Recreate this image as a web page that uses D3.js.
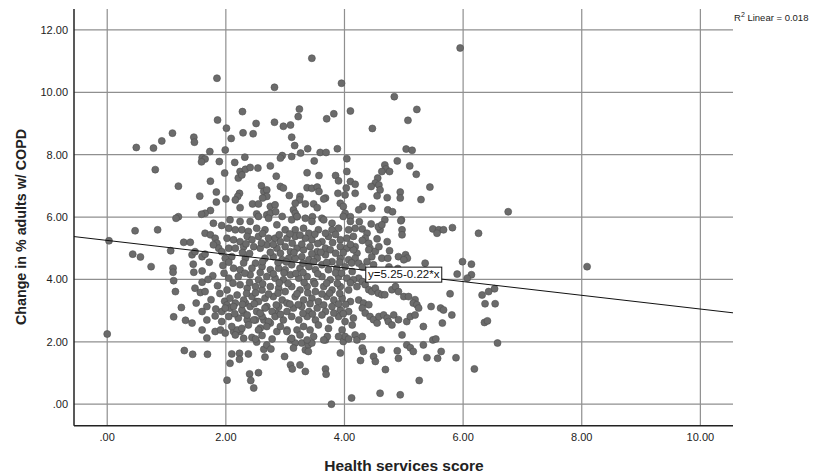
<!DOCTYPE html>
<html>
<head>
<meta charset="utf-8">
<script src="https://cdn.jsdelivr.net/npm/d3@7"></script>
<style>
  body { margin: 0; background: #fff; }
  svg { display: block; font-family: Arial, "Liberation Sans", sans-serif; }
</style>
</head>
<body>
<div id="vis"></div>
<script>
const width = 820;
const height = 476;

// axis ticks
const xTicks = [0, 2, 4, 6, 8, 10];
const yTicks = [0, 2, 4, 6, 8, 10, 12];

// fit line
const fitIntercept = 5.25;
const fitSlope = -0.22;
const rSquared = 0.018;
const fitLabelAt = 5.64;

// [health services score, change in % adults w/ COPD]
const outerPoints = [
  [1.85,10.45],[1.86,9.11],[1.10,8.69],[0.92,8.44],[0.78,8.21],[0.49,8.23],[1.46,8.56],[1.47,8.40],
  [1.73,8.10],[1.60,7.90],[1.65,7.86],[1.59,7.77],[1.89,7.78],[1.99,8.15],[1.98,7.41],[0.81,7.52],
  [1.74,7.15],[1.84,6.80],[1.20,6.99],[1.56,6.67],[1.84,6.48],[2.00,6.58],[1.74,6.21],[1.65,6.12],
  [1.59,6.09],[1.20,6.01],[1.16,5.96],
  [3.45,11.09],[2.82,10.16],[3.95,10.29],[2.28,9.38],[3.24,9.46],[3.22,9.22],[3.70,9.15],[3.82,9.31],
  [4.10,9.40],[2.01,8.85],[2.51,9.00],[2.82,9.04],[2.97,8.91],[3.09,8.95],[2.09,8.52],[2.29,8.70],
  [2.46,8.67],[3.11,8.56],[3.16,8.29],[3.38,8.19],[3.26,8.05],[2.95,7.97],[2.92,7.89],[3.11,7.94],
  [3.59,8.07],[3.69,8.07],[3.88,8.19],[4.04,7.87],[2.32,7.92],[2.15,7.75],[2.75,7.64],[3.49,7.80],
  [3.37,7.42],[3.57,7.33],[2.85,7.31],[4.04,7.46],[2.24,7.46],[2.33,7.53],[2.41,7.59],[2.54,7.57],
  [2.21,7.25],[2.27,7.35],[3.85,7.33],[3.90,7.16],[4.10,7.14],[2.92,6.98],[2.97,6.93],[2.60,7.00],
  [2.64,6.82],[2.69,6.87],[2.69,6.66],[2.62,6.61],[3.37,6.94],[3.45,6.92],[3.54,6.96],[3.57,6.82],
  [3.89,6.76],[3.07,6.69],[3.25,6.66],[3.24,6.55],[3.68,6.61],[3.65,6.58],[4.03,6.93],[4.01,6.71],
  [2.23,6.76],[2.20,6.66],[2.16,6.55],[2.45,6.42],[2.55,6.42],[2.24,6.30],[2.75,6.34],[2.83,6.39],
  [3.17,6.44],[3.14,6.23],[3.34,6.42],[3.48,6.42],[3.54,6.30],[3.93,6.44],[3.98,6.34],[2.52,6.10],
  [2.69,6.07],[2.75,6.12],[2.84,6.17],[3.17,6.12],[3.20,6.01],[3.62,5.96],[3.46,6.01],[4.01,6.12],
  [4.10,6.01],
  [5.95,11.42],[4.84,9.86],[5.22,9.45],[5.07,9.10],[4.47,8.84],[5.04,8.18],[5.14,8.14],[4.89,7.80],
  [4.68,7.67],[4.70,7.54],[4.63,7.46],[4.76,7.46],[5.10,7.64],[5.21,7.37],[4.56,7.25],[4.52,7.09],
  [4.45,6.98],[4.58,7.03],[4.60,6.87],[5.44,6.96],[4.94,6.80],[4.94,6.61],[4.55,6.68],[4.72,6.62],
  [5.29,6.56],[4.18,7.05],[4.18,6.76],[4.31,6.34],[4.24,6.23],[4.46,6.28],[4.73,6.23],[4.81,6.17],
  [4.68,5.91],[4.96,5.91],
  [6.76,6.17],[8.09,4.41],[6.53,3.70],[6.43,3.61],[6.32,3.50],[6.37,3.22],[6.54,3.22],[6.36,2.62],
  [6.41,2.67],[6.58,1.96],[6.26,5.48]
];

const rightPoints = [
  [4.95,5.88],[4.18,5.64],[4.30,5.62],[4.38,5.48],[4.35,5.32],[4.41,5.16],[4.43,5.00],[4.60,5.59],
  [4.57,5.69],[4.63,5.75],[4.97,5.59],[4.97,5.43],[5.49,5.62],[5.59,5.59],[5.67,5.59],[5.56,5.48],
  [5.82,5.66],[4.72,5.21],[4.76,4.92],[4.18,5.05],[4.21,4.84],[4.18,4.68],[4.24,4.52],[4.41,4.95],
  [4.46,4.73],[4.38,4.57],[4.49,4.47],[4.63,4.68],[4.73,4.68],[4.91,4.73],[5.03,4.79],[5.06,4.68],
  [5.00,4.63],[5.36,4.52],[5.99,4.57],[6.14,4.49],[6.14,4.15],[6.07,4.04],[5.90,4.17],
  [4.25,5.85],[4.45,5.78],[4.30,5.25],[4.55,5.30],[4.52,4.90],[4.30,4.40],[4.62,4.25],[4.45,4.20],
  [4.75,4.40],[4.90,4.35],[4.58,5.05],
  [4.24,4.04],[4.30,3.93],[4.21,3.77],[4.35,3.83],[4.41,3.67],[4.46,3.61],[4.52,3.72],[4.57,3.56],
  [4.63,3.51],[4.68,3.51],[4.80,3.67],[4.86,3.77],[4.91,3.61],[5.00,3.45],[5.08,3.45],[5.19,3.35],
  [5.16,3.24],[5.22,3.19],[5.25,3.08],[5.78,3.54],[5.46,3.13],[5.62,3.08],[5.67,3.02],[5.81,2.86],
  [4.24,3.34],[4.32,3.24],[4.30,3.08],[4.41,3.19],[4.35,2.92],[4.43,2.81],[4.49,2.71],[4.55,2.60],
  [4.58,2.81],[4.66,2.86],[4.72,2.76],[4.74,2.65],[4.83,2.86],[4.80,2.54],[4.91,2.71],[5.05,2.65],
  [5.11,2.81],[5.19,2.86],[5.33,2.49],[5.65,2.60],[4.97,2.22],[5.49,2.06],[5.54,2.09],[5.33,1.90],
  [4.18,2.22],[4.21,2.06],[4.30,2.17],[4.30,1.80],[4.32,1.69],[4.27,1.40],[4.49,1.53],[4.52,1.37],
  [4.62,1.74],[4.89,1.71],[4.91,1.47],[5.05,1.90],[5.11,1.81],[5.16,1.69],[5.39,1.49],[5.57,1.47],
  [5.63,1.69],[5.88,1.49],[6.19,1.13],[4.69,1.11],[5.26,0.76],[4.60,0.35],[4.94,0.30],[4.12,0.20]
];

const leftPoints = [
  [0.00,2.25],[0.03,5.24],[0.47,5.56],[0.85,5.59],[0.43,4.81],[0.56,4.72],[0.74,4.41],[1.07,4.92],
  [1.11,4.36],[1.11,4.23],[1.12,3.96],[1.15,3.61],[1.29,5.19],[1.40,5.19],[1.79,5.80],[1.93,5.73],
  [1.65,5.48],[1.74,5.43],[1.82,5.32],[1.85,5.16],[1.88,5.00],[1.93,4.89],[1.79,5.11],[1.43,4.79],
  [1.48,4.89],[1.60,4.73],[1.65,4.81],[1.45,4.49],[1.46,4.23],[1.60,4.27],[1.60,3.91],[1.86,3.80],
  [1.48,3.72],[1.57,3.58],[1.65,3.61],[1.50,3.24],[1.68,3.13],[1.60,2.97],[1.25,3.10],[1.12,2.80],
  [1.32,2.69],[1.43,2.60],[1.68,2.70],[1.82,2.83],[1.93,2.97],[1.93,2.65],[1.60,2.38],[1.68,2.12],
  [1.82,2.33],[1.91,2.38],[1.30,1.72],[1.44,1.60],[1.69,1.60],[2.02,0.77],
  [1.72,4.55],[1.95,4.45],[1.78,4.12],[1.97,4.20],[1.90,3.55],[1.75,3.35],[1.98,3.30],[1.83,3.05],
  [1.70,4.00],
  [2.07,1.31],[2.10,1.61],[2.23,1.63],[2.23,1.44],[2.38,1.61],[2.40,0.97],[2.42,0.76],[2.47,0.52],
  [2.55,1.01],[2.66,1.51],[2.64,1.76],[2.69,1.90],[2.76,1.77],[2.52,1.99],[2.44,2.14],
  [2.02,3.18],[2.07,3.08],[2.16,3.24],[2.30,2.92],[2.33,3.24],[2.13,2.33],[2.24,2.33],[2.36,2.70],
  [2.50,2.70],[2.64,2.70],[2.58,2.44],[2.75,2.60],[2.86,2.33],[2.86,2.92],[2.52,3.29],[2.69,3.13],
  [3.78,0.00],[3.09,1.26],[3.12,1.13],[3.25,1.26],[3.34,1.05],[3.68,1.13],[3.69,0.96],[2.99,1.53],
  [3.93,1.64],[3.09,2.06],[3.17,1.96],[3.14,1.80],[3.28,1.96],[3.34,1.74],[3.39,1.90],[3.45,1.96],
  [3.39,1.69],[3.68,2.06],[3.71,2.17],[3.98,2.01],[4.01,2.17],[3.03,2.38],[2.19,2.38],[1.99,2.28]
];

const corePoints = [
  [2.07,5.91],[2.24,5.86],[2.41,5.86],[2.55,6.02],[2.72,5.96],[2.95,6.02],[3.11,5.91],[3.20,6.02],
  [3.34,5.96],[3.45,5.86],[3.65,5.91],[3.79,5.80],[3.98,6.02],[4.10,5.86],
  [2.05,5.64],[2.16,5.59],[2.27,5.59],[2.38,5.54],[2.52,5.64],[2.66,5.59],[2.86,5.75],[3.00,5.59],
  [3.17,5.59],[3.31,5.64],[3.40,5.48],[3.56,5.59],[3.79,5.59],[3.90,5.64],[4.07,5.59],
  [2.02,5.32],[2.13,5.27],[2.24,5.21],[2.36,5.38],[2.44,5.27],[2.55,5.38],[2.72,5.32],[2.83,5.32],
  [2.92,5.21],[3.03,5.32],[3.17,5.38],[3.34,5.32],[3.45,5.27],[3.62,5.21],[3.73,5.38],[3.93,5.27],
  [4.04,5.32],[4.15,5.38],
  [2.05,5.00],[2.16,5.00],[2.30,5.05],[2.47,5.05],[2.58,5.00],[2.69,5.11],[2.86,5.00],[3.00,5.05],
  [3.09,4.89],[3.20,5.00],[3.31,4.95],[3.42,5.05],[3.54,4.89],[3.68,5.00],[3.76,4.95],[3.93,5.05],
  [4.04,5.00],[4.15,4.95],
  [1.99,4.68],[2.10,4.73],[2.33,4.68],[2.50,4.52],[2.66,4.68],[2.80,4.73],[2.95,4.63],[3.06,4.68],
  [3.17,4.68],[3.28,4.73],[3.40,4.63],[3.54,4.68],[3.68,4.79],[3.79,4.57],[3.93,4.68],[4.07,4.63],
  [2.13,4.36],[2.24,4.31],[2.44,4.36],[2.61,4.41],[2.75,4.31],[2.89,4.36],[3.00,4.31],[3.11,4.47],
  [3.25,4.36],[3.40,4.41],[3.51,4.31],[3.62,4.47],[3.73,4.31],[3.87,4.36],[4.01,4.41],[4.13,4.25],
  [2.05,4.04],[2.21,4.09],[2.41,4.15],[2.55,3.99],[2.69,4.09],[2.83,4.04],[2.97,3.99],[3.09,4.15],
  [3.23,4.04],[3.37,4.09],[3.48,3.93],[3.62,4.09],[3.76,3.99],[3.90,4.09],[4.04,4.04],[4.15,3.99],
  [2.02,3.66],[2.24,3.83],[2.36,3.72],[2.50,3.77],[2.61,3.66],[2.75,3.77],[2.89,3.72],[3.00,3.61],
  [3.11,3.77],[3.25,3.66],[3.37,3.77],[3.51,3.61],[3.65,3.77],[3.79,3.66],[3.93,3.77],[4.07,3.66],
  [2.07,3.40],[2.19,3.50],[2.30,3.34],[2.44,3.45],[2.55,3.29],[2.66,3.40],[2.80,3.45],[2.95,3.34],
  [3.03,3.24],[3.17,3.45],[3.31,3.34],[3.45,3.40],[3.56,3.29],[3.70,3.45],[3.82,3.34],[3.96,3.40],
  [4.10,3.29],
  [1.99,3.08],[2.13,3.13],[2.27,3.02],[2.41,3.13],[2.52,2.97],[2.66,3.08],[2.78,2.97],[2.89,3.13],
  [3.03,2.97],[3.14,3.08],[3.28,3.13],[3.40,2.97],[3.54,3.08],[3.68,2.97],[3.79,3.13],[3.93,3.02],
  [4.07,2.97],
  [2.05,2.81],[2.21,2.76],[2.36,2.86],[2.47,2.70],[2.61,2.81],[2.72,2.65],[2.83,2.81],[2.97,2.70],
  [3.11,2.81],[3.23,2.70],[3.37,2.81],[3.51,2.70],[3.62,2.86],[3.76,2.70],[3.90,2.81],[4.01,2.65],
  [4.15,2.76],
  [2.10,2.49],[2.27,2.43],[2.38,2.54],[2.55,2.38],[2.69,2.49],[2.92,2.49],[3.03,2.33],[3.20,2.38],
  [3.31,2.49],[3.42,2.38],[3.56,2.54],[3.73,2.43],[3.96,2.38],[4.13,2.54],
  [2.16,2.22],[2.30,2.11],[2.50,2.09],[2.61,2.20],[2.78,2.09],[3.11,2.11],[3.25,2.22],[3.37,2.06],
  [3.48,2.17],[3.65,2.06],[3.90,2.17],[4.07,2.09],
  [2.62,5.47],[2.90,5.43],[3.08,5.46],[3.25,5.42],[3.50,5.45],[3.68,5.48],[3.85,5.44],
  [2.34,5.14],[2.60,5.17],[2.80,5.12],[3.12,5.16],[3.28,5.13],[3.55,5.15],[3.80,5.18],[4.10,5.12],
  [2.28,4.86],[2.40,4.83],[2.75,4.87],[2.92,4.84],[3.15,4.86],[3.45,4.82],[3.60,4.87],[3.85,4.84],
  [3.98,4.86],
  [2.05,4.55],[2.30,4.53],[2.62,4.57],[2.88,4.54],[3.02,4.56],[3.30,4.52],[3.48,4.57],[3.70,4.54],
  [3.92,4.55],[4.12,4.53],
  [2.32,4.20],[2.58,4.22],[2.80,4.18],[2.98,4.21],[3.18,4.19],[3.30,4.22],[3.55,4.18],[3.85,4.21],
  [3.95,4.20],
  [2.12,3.88],[2.40,3.90],[2.62,3.86],[2.90,3.89],[3.05,3.87],[3.32,3.90],[3.50,3.86],[3.70,3.88],
  [3.88,3.87],[4.10,3.89],
  [2.35,3.55],[2.50,3.57],[2.72,3.53],[2.88,3.56],[3.20,3.54],[3.38,3.57],[3.62,3.53],[3.75,3.56],
  [3.92,3.55],
  [2.28,3.20],[2.48,3.22],[2.85,3.18],[3.08,3.21],[3.22,3.19],[3.42,3.22],[3.65,3.18],[3.90,3.21],
  [4.02,3.20],
  [2.15,2.90],[2.58,2.92],[2.92,2.88],[3.30,2.91],[3.46,2.89],[3.82,2.92],[3.98,2.90]
];

const points = [...outerPoints, ...rightPoints, ...leftPoints, ...corePoints];

const svg = d3.select("#vis").append("svg")
  .attr("width", width)
  .attr("height", height);

svg.append("rect").attr("width", width).attr("height", height).attr("fill", "#fff");

const x = d3.scaleLinear().domain([-0.56, 10.55]).range([74, 733]);
const y = d3.scaleLinear().domain([-0.69, 12.67]).range([425.7, 9]);

const fmt = d => d === 0 ? ".00" : d3.format(".2f")(d);

// gridlines
svg.append("g").selectAll("line")
  .data(xTicks)
  .enter().append("line")
  .attr("x1", d => x(d)).attr("x2", d => x(d))
  .attr("y1", y.range()[1]).attr("y2", y.range()[0])
  .attr("stroke", "#8f8f8f")
  .attr("stroke-width", 1.2);

svg.append("g").selectAll("line")
  .data(yTicks)
  .enter().append("line")
  .attr("x1", x.range()[0]).attr("x2", x.range()[1])
  .attr("y1", d => y(d)).attr("y2", d => y(d))
  .attr("stroke", "#8f8f8f")
  .attr("stroke-width", 1.2);

// axis lines
svg.append("line")
  .attr("x1", x.range()[0]).attr("x2", x.range()[0])
  .attr("y1", y.range()[1]).attr("y2", y.range()[0])
  .attr("stroke", "#222").attr("stroke-width", 1.5);
svg.append("line")
  .attr("x1", x.range()[0]).attr("x2", x.range()[1])
  .attr("y1", y.range()[0]).attr("y2", y.range()[0])
  .attr("stroke", "#222").attr("stroke-width", 1.5);

// tick labels
svg.append("g").selectAll("text")
  .data(yTicks)
  .enter().append("text")
  .attr("x", 68)
  .attr("y", d => y(d) + 4)
  .attr("text-anchor", "end")
  .attr("font-size", "11px")
  .attr("fill", "#222")
  .text(fmt);

svg.append("g").selectAll("text")
  .data(xTicks)
  .enter().append("text")
  .attr("x", d => x(d))
  .attr("y", 441)
  .attr("text-anchor", "middle")
  .attr("font-size", "11px")
  .attr("fill", "#222")
  .text(fmt);

// points
svg.append("g").selectAll("circle")
  .data(points)
  .enter().append("circle")
  .attr("cx", d => x(d[0]))
  .attr("cy", d => y(d[1]))
  .attr("r", 3.5)
  .attr("fill", "#6b6b6b")
  .attr("stroke", "#505050")
  .attr("stroke-width", 0.6);

// fit line
const fit = v => fitIntercept + fitSlope * v;
const [x0, x1] = x.domain();
svg.append("line")
  .attr("x1", x(x0)).attr("y1", y(fit(x0)))
  .attr("x2", x(x1)).attr("y2", y(fit(x1)))
  .attr("stroke", "#111")
  .attr("stroke-width", 1);

// fit label box
const lx = x(fitLabelAt);
const ly = y(fit(fitLabelAt));
const labelW = 76, labelH = 15;
svg.append("rect")
  .attr("x", lx - labelW)
  .attr("y", ly - labelH + 3)
  .attr("width", labelW)
  .attr("height", labelH)
  .attr("fill", "#fff")
  .attr("stroke", "#111")
  .attr("stroke-width", 1);
svg.append("text")
  .attr("x", lx - labelW / 2)
  .attr("y", ly - 1)
  .attr("text-anchor", "middle")
  .attr("font-size", "11.5px")
  .attr("fill", "#111")
  .text(`y=${fitIntercept}${fitSlope < 0 ? "-" : "+"}${Math.abs(fitSlope)}*x`);

// R squared
const r2 = svg.append("text")
  .attr("x", 734)
  .attr("y", 21)
  .attr("font-size", "9.5px")
  .attr("fill", "#222");
r2.append("tspan").text("R");
r2.append("tspan").attr("dy", -4).attr("font-size", "7px").text("2");
r2.append("tspan").attr("dy", 4).text(` Linear = ${rSquared}`);

// axis titles
svg.append("text")
  .attr("x", 404)
  .attr("y", 471)
  .attr("text-anchor", "middle")
  .attr("font-size", "15.5px")
  .attr("font-weight", "bold")
  .attr("fill", "#222")
  .text("Health services score");

svg.append("text")
  .attr("transform", "translate(26,227) rotate(-90)")
  .attr("text-anchor", "middle")
  .attr("font-size", "14.3px")
  .attr("font-weight", "bold")
  .attr("fill", "#222")
  .text("Change in % adults w/ COPD");
</script>
</body>
</html>
